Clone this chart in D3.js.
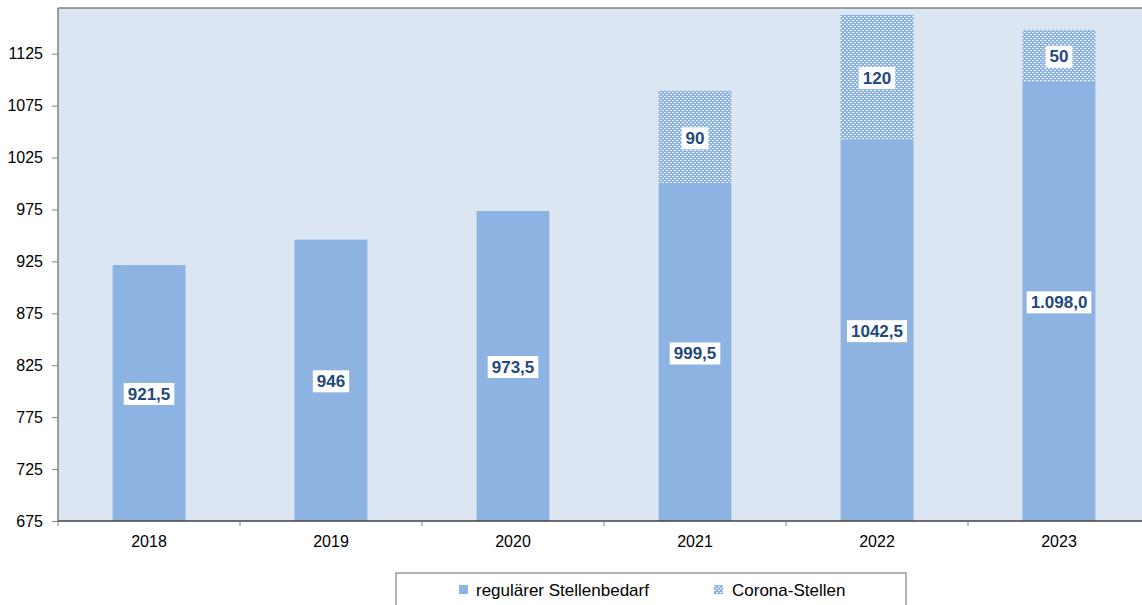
<!DOCTYPE html>
<html>
<head>
<meta charset="utf-8">
<script src="https://cdn.jsdelivr.net/npm/d3@7"></script>
<style>
  html, body { margin: 0; padding: 0; background: #ffffff; }
  svg { display: block; }
  text { font-family: "Liberation Sans", Arial, sans-serif; }
</style>
</head>
<body>
<svg id="chart" width="1142" height="605"></svg>
<script>
// Stellenbedarf per year: regular need plus additional Corona positions
const years = ["2018", "2019", "2020", "2021", "2022", "2023"];
const regular = [921.5, 946, 973.5, 999.5, 1042.5, 1098.0];
const corona = [0, 0, 0, 90, 120, 50];
const regularLabels = ["921,5", "946", "973,5", "999,5", "1042,5", "1.098,0"];
const coronaLabels = ["", "", "", "90", "120", "50"];
const yTicks = [675, 725, 775, 825, 875, 925, 975, 1025, 1075, 1125];
const seriesNames = ["regulärer Stellenbedarf", "Corona-Stellen"];

const svg = d3.select("#chart");
const plot = { left: 58, top: 8, right: 1150, bottom: 521 };

const x = d3.scaleBand().domain(years).range([plot.left, plot.right]).paddingInner(0.6).paddingOuter(0.3);
const y = d3.scaleLinear().domain([675, 1169]).range([plot.bottom, plot.top]);

const barColor = "#8db3e2";
const labelColor = "#1f497d";

// checker-like hatch for Corona positions
const defs = svg.append("defs");
const pat = defs.append("pattern").attr("id", "hatch").attr("patternUnits", "userSpaceOnUse")
  .attr("width", 4).attr("height", 4);
pat.append("rect").attr("width", 4).attr("height", 4).attr("fill", barColor);
pat.append("rect").attr("x", 0).attr("y", 0).attr("width", 2).attr("height", 1).attr("fill", "#ffffff").attr("opacity", 0.9);
pat.append("rect").attr("x", 2).attr("y", 2).attr("width", 2).attr("height", 1).attr("fill", "#ffffff").attr("opacity", 0.9);

// plot background
svg.append("rect").attr("x", plot.left).attr("y", plot.top)
  .attr("width", plot.right - plot.left).attr("height", plot.bottom - plot.top)
  .attr("fill", "#dce6f2");

// regular bars
svg.append("g").selectAll("rect").data(years).join("rect")
  .attr("x", d => x(d))
  .attr("width", x.bandwidth())
  .attr("y", (d, i) => y(regular[i]))
  .attr("height", (d, i) => y(675) - y(regular[i]))
  .attr("fill", barColor);

// Corona bars stacked on top
svg.append("g").selectAll("rect").data(years.filter((d, i) => corona[i] > 0)).join("rect")
  .attr("x", d => x(d))
  .attr("width", x.bandwidth())
  .attr("y", d => { const i = years.indexOf(d); return y(regular[i] + corona[i]); })
  .attr("height", d => { const i = years.indexOf(d); return y(regular[i]) - y(regular[i] + corona[i]); })
  .attr("fill", "url(#hatch)");

// frame: top border
svg.append("line").attr("x1", plot.left).attr("x2", plot.right).attr("y1", plot.top).attr("y2", plot.top)
  .attr("stroke", "#808080").attr("stroke-width", 1.5);

// y axis
const yAxis = d3.axisLeft(y).tickValues(yTicks).tickSize(6).tickPadding(9).tickFormat(d3.format("d"));
const gy = svg.append("g").attr("transform", `translate(${plot.left},0)`).call(yAxis);
gy.select(".domain").attr("stroke", "#808080").attr("stroke-width", 1.5).attr("d", `M0,${plot.top}V${plot.bottom}`);
gy.selectAll(".tick line").attr("stroke", "#808080");
gy.selectAll(".tick text").attr("font-size", 16).attr("fill", "#000")
  .attr("font-family", "'Liberation Sans', Arial, sans-serif");

// x axis with ticks between categories
const gx = svg.append("g").attr("transform", `translate(0,${plot.bottom})`);
gx.append("line").attr("x1", plot.left).attr("x2", plot.right).attr("stroke", "#404040").attr("stroke-width", 1.5);
const bounds = d3.range(years.length + 1).map(i => plot.left + i * (plot.right - plot.left) / years.length);
gx.selectAll("line.t").data(bounds).join("line").attr("class", "t")
  .attr("x1", d => d).attr("x2", d => d).attr("y1", 0).attr("y2", 5).attr("stroke", "#808080");
gx.selectAll("text").data(years).join("text")
  .attr("x", d => x(d) + x.bandwidth() / 2).attr("y", 26)
  .attr("text-anchor", "middle").attr("font-size", 16).attr("fill", "#000").text(d => d);

// value labels in white boxes
function label(cx, cy, txt) {
  const g = svg.append("g");
  const t = g.append("text").attr("x", cx).attr("y", cy).attr("text-anchor", "middle")
    .attr("dominant-baseline", "central").attr("font-size", 17).attr("font-weight", "bold")
    .attr("fill", labelColor).text(txt);
  const bb = t.node().getBBox();
  g.insert("rect", "text").attr("x", bb.x - 4).attr("y", cy - 11).attr("width", bb.width + 8).attr("height", 22)
    .attr("fill", "#ffffff");
}
years.forEach((d, i) => {
  const cx = x(d) + x.bandwidth() / 2;
  label(cx, (y(675) + y(regular[i])) / 2 + 1, regularLabels[i]);
  if (corona[i] > 0) {
    label(cx, (y(regular[i]) + y(regular[i] + corona[i])) / 2 + 1, coronaLabels[i]);
  }
});

// legend
const lg = svg.append("g");
lg.append("rect").attr("x", 396).attr("y", 573).attr("width", 510).attr("height", 40)
  .attr("fill", "#ffffff").attr("stroke", "#808080").attr("stroke-width", 1.2);
const legendItems = [
  { name: seriesNames[0], fill: barColor, mx: 459, tx: 476 },
  { name: seriesNames[1], fill: "url(#hatch)", mx: 714, tx: 732 }
];
legendItems.forEach(it => {
  lg.append("rect").attr("x", it.mx).attr("y", 585).attr("width", 9).attr("height", 9).attr("fill", it.fill);
  lg.append("text").attr("x", it.tx).attr("y", 596).attr("font-size", 17).attr("fill", "#000").text(it.name);
});
</script>
</body>
</html>
